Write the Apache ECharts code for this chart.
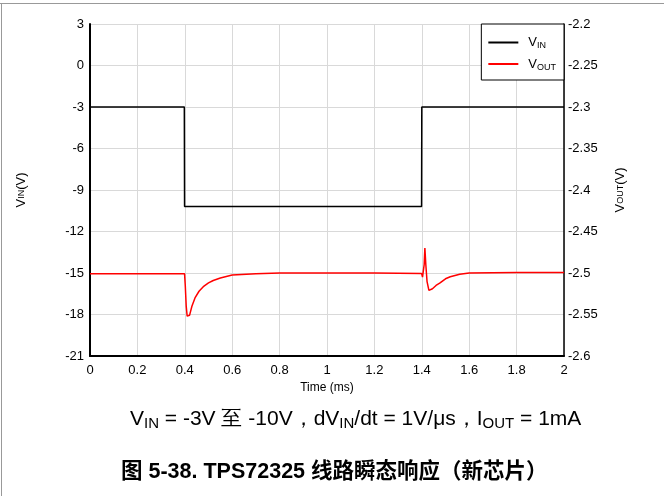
<!DOCTYPE html>
<html><head><meta charset="utf-8">
<script src="https://cdn.jsdelivr.net/npm/echarts@6/dist/echarts.min.js"></script>
<style>html,body{margin:0;padding:0;background:#fff}#c{width:664px;height:496px}</style>
</head><body><div id="c"></div>
<script>
// time (ms) and voltages
const tVin = [0, 0.398, 0.399, 1.399, 1.400, 2];
const vIn  = [-3, -3, -10.2, -10.2, -3, -3];
const tVout = [0, 0.2, 0.399, 0.402, 0.406, 0.41, 0.415, 0.42, 0.43, 0.443, 0.46, 0.478, 0.5, 0.52, 0.55, 0.6, 0.7, 0.8, 1.0, 1.2, 1.399, 1.403, 1.407, 1.41, 1.413, 1.417, 1.422, 1.43, 1.435, 1.445, 1.46, 1.477, 1.5, 1.52, 1.56, 1.6, 1.8, 2];
const vOut  = [-2.501, -2.501, -2.501, -2.515, -2.540, -2.552, -2.554, -2.551, -2.540, -2.530, -2.522, -2.5165, -2.512, -2.509, -2.506, -2.5025, -2.501, -2.500, -2.500, -2.500, -2.5005, -2.505, -2.507, -2.49, -2.470, -2.49, -2.51, -2.521, -2.523, -2.519, -2.515, -2.512, -2.507, -2.5045, -2.5015, -2.5, -2.4995, -2.4995];
const leftTicks = {min: -21, max: 3, interval: 3};
const rightTicks = {min: -2.6, max: -2.2, interval: 0.05};
const xTicks = {min: 0, max: 2, interval: 0.2};

const F = 'Liberation Sans, Arial, sans-serif';
const sub = {fontSize: 9, fontFamily: F, color: '#000', padding: [7, 0, 0, 0]};
const subV = {fontSize: 9, fontFamily: F, color: '#000', padding: [0, 0, 0, 0]};
const chart = echarts.init(document.getElementById('c'));
chart.setOption({
  animation: false,
  backgroundColor: '#fff',
  textStyle: {fontFamily: F},
  grid: {left: 90, right: 100, top: 24, bottom: 140},
  legend: {
    right: 100, top: 24, orient: 'vertical',
    backgroundColor: '#fff', borderColor: '#000', borderWidth: 1,
    padding: [12, 8, 8, 7], itemGap: 7, itemWidth: 30, itemHeight: 2, icon: 'rect',
    data: ['VIN', 'VOUT'],
    formatter: n => 'V{s|' + n.slice(1) + '}',
    textStyle: {fontSize: 13, color: '#000', padding: [0, 0, 0, 5], rich: {s: sub}}
  },
  xAxis: {
    type: 'value', min: xTicks.min, max: xTicks.max, interval: xTicks.interval,
    name: 'Time (ms)', nameLocation: 'middle', nameGap: 24,
    nameTextStyle: {fontSize: 12, color: '#000'},
    axisLine: {onZero: false, lineStyle: {color: '#000', width: 2}},
    axisTick: {show: false},
    axisLabel: {fontSize: 13, color: '#000', margin: 8},
    splitLine: {show: true, lineStyle: {color: '#d9d9d9', width: 1}}
  },
  yAxis: [{
    type: 'value', position: 'left', min: leftTicks.min, max: leftTicks.max, interval: leftTicks.interval,
    name: 'V{s|IN}(V)', nameLocation: 'middle', nameGap: 62, nameRotate: 90,
    nameTextStyle: {fontSize: 13, color: '#000', rich: {s: subV}},
    axisLine: {show: true, onZero: false, lineStyle: {color: '#000', width: 2}},
    axisTick: {show: false},
    axisLabel: {fontSize: 13, color: '#000', margin: 6},
    splitLine: {show: true, lineStyle: {color: '#d9d9d9', width: 1}}
  }, {
    type: 'value', position: 'right', min: rightTicks.min, max: rightTicks.max, interval: rightTicks.interval,
    name: 'V{s|OUT}(V)', nameLocation: 'middle', nameGap: 50, nameRotate: 90,
    nameTextStyle: {fontSize: 13, color: '#000', rich: {s: subV}},
    axisLine: {show: true, onZero: false, lineStyle: {color: '#000', width: 1.5}},
    axisTick: {show: false},
    axisLabel: {fontSize: 13, color: '#000', margin: 4, formatter: v => String(Math.round(v * 100) / 100)},
    splitLine: {show: false}
  }],
  series: [{
    name: 'VIN', type: 'line', yAxisIndex: 0, symbol: 'none',
    lineStyle: {color: '#000', width: 1.5}, itemStyle: {color: '#000'},
    data: tVin.map((t, i) => [t, vIn[i]])
  }, {
    name: 'VOUT', type: 'line', yAxisIndex: 1, symbol: 'none',
    lineStyle: {color: '#ff0000', width: 1.5}, itemStyle: {color: '#ff0000'},
    data: tVout.map((t, i) => [t, vOut[i]])
  }],
  graphic: [
    {type: 'line', shape: {x1: 0, y1: 3.5, x2: 664, y2: 3.5}, style: {stroke: '#999', lineWidth: 1}},
    {type: 'line', shape: {x1: 1.5, y1: 3, x2: 1.5, y2: 496}, style: {stroke: '#999', lineWidth: 1}},
    {type: 'text', left: 130, top: 409,
      style: {text: 'V{s|IN} = -3V 至 -10V，dV{s|IN}/dt = 1V/μs，I{s|OUT} = 1mA', fontSize: 21, fontFamily: F, fill: '#000',
        rich: {s: {fontSize: 15, fontFamily: F, padding: [9, 0, 0, 0]}}}},
    {type: 'text', left: 121, top: 461,
      style: {text: '图 5-38. TPS72325 线路瞬态响应（新芯片）', fontSize: 21.5, fontWeight: 'bold', fontFamily: 'Liberation Sans, Noto Sans CJK SC, sans-serif', fill: '#000'}}
  ]
});
</script></body></html>
